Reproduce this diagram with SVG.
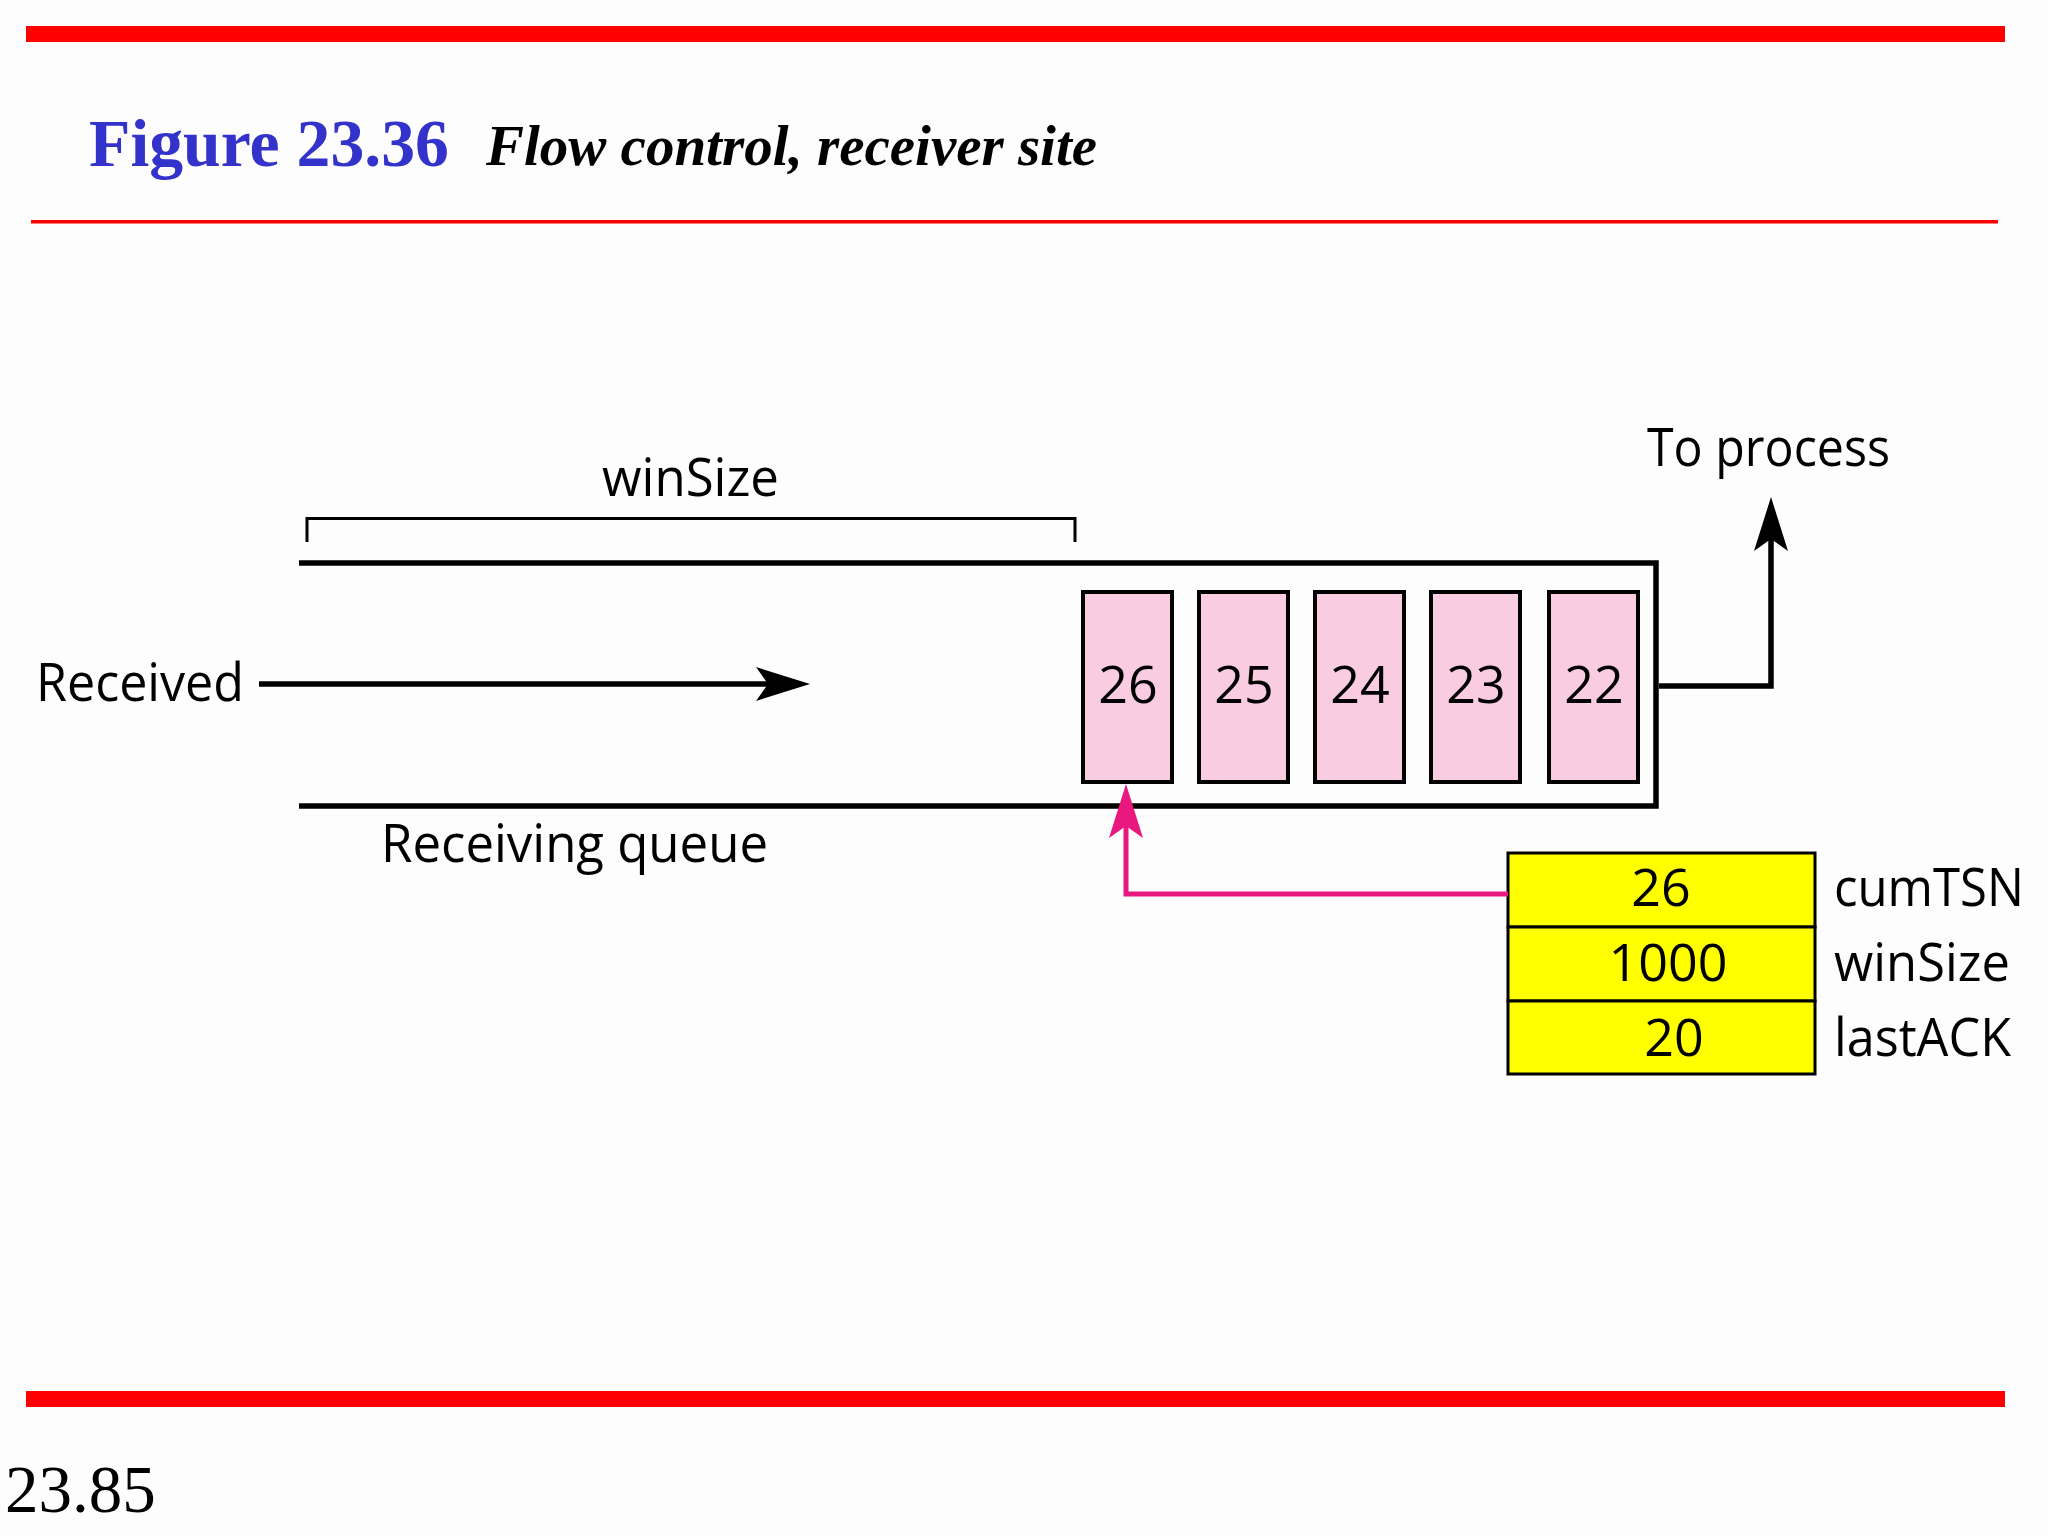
<svg xmlns="http://www.w3.org/2000/svg" width="2048" height="1536" viewBox="0 0 2048 1536">
  <style>
    .sans { font-family: "Open Sans", "Noto Sans", "Liberation Sans", sans-serif; font-size: 53px; fill: #000; }
    .num { font-family: "Open Sans", "Noto Sans", "Liberation Sans", sans-serif; font-size: 52px; fill: #000; text-anchor: middle; }
    .cell { fill: #f9cce1; stroke: #000; stroke-width: 4; }
    .row { fill: #ffff00; stroke: #000; stroke-width: 3; }
    .blk { fill: none; stroke: #000; stroke-width: 5.5; }
    .pnk { fill: none; stroke: #e8187f; stroke-width: 5; }
  </style>
  <defs>
    <marker id="ahB" viewBox="0 0 54 34" refX="12" refY="17" markerWidth="54" markerHeight="34" markerUnits="userSpaceOnUse" orient="auto">
      <path d="M0,0 L54,17 L0,34 L12,17 Z" fill="#000"/>
    </marker>
    <marker id="ahP" viewBox="0 0 54 34" refX="12" refY="17" markerWidth="54" markerHeight="34" markerUnits="userSpaceOnUse" orient="auto">
      <path d="M0,0 L54,17 L0,34 L12,17 Z" fill="#e8187f"/>
    </marker>
  </defs>
  <rect x="0" y="0" width="2048" height="1536" fill="#fdfdfd"/>

  <g id="header">
    <rect x="26" y="26" width="1979" height="16" fill="#ff0000"/>
    <text x="89" y="166" font-family="'Liberation Serif', serif" font-weight="bold" font-size="68" fill="#3333cc" textLength="360" lengthAdjust="spacingAndGlyphs">Figure 23.36</text>
    <text x="486" y="165" font-family="'Liberation Serif', serif" font-weight="bold" font-style="italic" font-size="57" fill="#000">Flow control, receiver site</text>
    <rect x="31" y="220" width="1967" height="3.5" fill="#ff0000"/>
  </g>

  <g id="footer">
    <rect x="26" y="1391" width="1979" height="16" fill="#ff0000"/>
    <text x="5" y="1512" font-family="'Liberation Serif', serif" font-size="67" fill="#000">23.85</text>
  </g>

  <g id="queue">
    <path d="M299,563 H1656 V806 H299" class="blk" stroke-width="5"/>
    <path d="M307,542 V518.5 H1075 V542" fill="none" stroke="#000" stroke-width="3"/>
    <text x="602" y="496" class="sans" textLength="177" lengthAdjust="spacingAndGlyphs">winSize</text>
    <text x="381" y="862" class="sans" textLength="387" lengthAdjust="spacingAndGlyphs">Receiving queue</text>
  </g>

  <g id="received-label">
    <text x="36" y="701" class="sans" textLength="208" lengthAdjust="spacingAndGlyphs">Received</text>
  </g>

  <g id="to-process-label">
    <text x="1647" y="466" class="sans" textLength="243" lengthAdjust="spacingAndGlyphs">To process</text>
  </g>

  <g id="chunk-26">
    <rect x="1083" y="592" width="89" height="190" class="cell"/>
    <text x="1128" y="703" class="num">26</text>
  </g>
  <g id="chunk-25">
    <rect x="1199" y="592" width="89" height="190" class="cell"/>
    <text x="1244" y="703" class="num">25</text>
  </g>
  <g id="chunk-24">
    <rect x="1315" y="592" width="89" height="190" class="cell"/>
    <text x="1360" y="703" class="num">24</text>
  </g>
  <g id="chunk-23">
    <rect x="1431" y="592" width="89" height="190" class="cell"/>
    <text x="1476" y="703" class="num">23</text>
  </g>
  <g id="chunk-22">
    <rect x="1549" y="592" width="89" height="190" class="cell"/>
    <text x="1594" y="703" class="num">22</text>
  </g>

  <g id="state-table">
    <rect x="1508" y="853" width="307" height="74" class="row"/>
    <rect x="1508" y="927" width="307" height="74" class="row"/>
    <rect x="1508" y="1001" width="307" height="73" class="row"/>
    <text x="1661" y="906" class="num">26</text>
    <text x="1668" y="981" class="num">1000</text>
    <text x="1674" y="1056" class="num">20</text>
    <text x="1834" y="906" class="sans" textLength="190" lengthAdjust="spacingAndGlyphs">cumTSN</text>
    <text x="1834" y="981" class="sans" textLength="176" lengthAdjust="spacingAndGlyphs">winSize</text>
    <text x="1834" y="1056" class="sans" textLength="177" lengthAdjust="spacingAndGlyphs">lastACK</text>
  </g>

  <g id="connectors">
    <line x1="259" y1="684" x2="768" y2="684" class="blk" marker-end="url(#ahB)"/>
    <path d="M1659,686 H1771 V539" class="blk" marker-end="url(#ahB)"/>
    <path d="M1508,894 H1126 V826" class="pnk" marker-end="url(#ahP)"/>
  </g>
</svg>
